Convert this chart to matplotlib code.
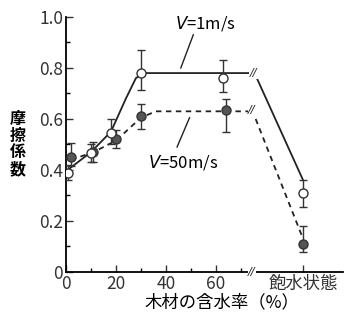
import matplotlib.pyplot as plt
import numpy as np

plt.rcParams['font.family'] = ['Noto Sans CJK JP', 'DejaVu Sans']

# V=1m/s (open circles)
x_slow = [1, 10, 18, 30, 63, 95]
y_slow = [0.39, 0.465, 0.545, 0.78, 0.76, 0.31]
err_slow_lo = [0.03, 0.035, 0.045, 0.065, 0.055, 0.055]
err_slow_hi = [0.03, 0.035, 0.055, 0.09, 0.07, 0.05]

# V=50m/s (filled circles)
x_fast = [2, 11, 20, 30, 64, 95]
y_fast = [0.45, 0.47, 0.52, 0.61, 0.635, 0.11]
err_fast_lo = [0.035, 0.04, 0.035, 0.05, 0.085, 0.03]
err_fast_hi = [0.055, 0.04, 0.035, 0.05, 0.045, 0.07]

# trend lines, before and after the break
slow_line1_x = [0, 10, 18, 24, 28, 31, 74]
slow_line1_y = [0.395, 0.47, 0.55, 0.68, 0.76, 0.78, 0.78]
slow_line2_x = [76, 95]
slow_line2_y = [0.77, 0.36]
fast_line1_x = [2, 11, 20, 30, 36, 73]
fast_line1_y = [0.44, 0.47, 0.515, 0.605, 0.63, 0.63]
fast_line2_x = [76, 95]
fast_line2_y = [0.60, 0.13]

fig = plt.figure(figsize=(3.52, 3.2), dpi=100)
ax = fig.add_axes([0.1875, 0.15, 0.787, 0.797])

ax.plot(slow_line1_x, slow_line1_y, color='#222222', lw=1.3)
ax.plot(slow_line2_x, slow_line2_y, color='#222222', lw=1.3)
ax.plot(fast_line1_x, fast_line1_y, color='#222222', lw=1.3, ls=(0, (3, 2.5)))
ax.plot(fast_line2_x, fast_line2_y, color='#222222', lw=1.3, ls=(0, (3, 2.5)))

ax.errorbar(x_fast, y_fast, yerr=[err_fast_lo, err_fast_hi], fmt='o', ms=6.5,
            mfc='#555555', mec='#333333', ecolor='#333333', elinewidth=1,
            capsize=3, zorder=3)
ax.errorbar(x_slow, y_slow, yerr=[err_slow_lo, err_slow_hi], fmt='o', ms=6.5,
            mfc='white', mec='#333333', ecolor='#333333', elinewidth=1,
            capsize=3, zorder=4)

# break marks
for bx, by in [(75, 0.78), (74.5, 0.635), (74.5, 0.0)]:
    ax.text(bx, by, '//', ha='center', va='center', fontsize=8,
            family='DejaVu Sans', fontstyle='italic', color='#222222',
            bbox=dict(fc='white', ec='none', pad=0.5), zorder=5, clip_on=False)

# annotations
ax.text(56, 0.975, '$V$=1m/s', ha='center', va='center', fontsize=12)
ax.plot([51, 46], [0.93, 0.80], color='#222222', lw=1)
ax.text(47, 0.43, '$V$=50m/s', ha='center', va='center', fontsize=12)
ax.plot([49.5, 44.5], [0.605, 0.49], color='#222222', lw=1)

ax.set_xlim(0, 111)
ax.set_ylim(0, 1.0)
ax.spines['top'].set_visible(False)
ax.spines['right'].set_visible(False)
ax.spines['left'].set_linewidth(1.3)
ax.spines['bottom'].set_linewidth(1.3)

ax.set_xticks([0, 20, 40, 60, 95])
ax.set_xticklabels(['0', '20', '40', '60', '飽水状態'])
ax.set_xticks([10, 30, 50, 70], minor=True)
ax.set_yticks([0, 0.2, 0.4, 0.6, 0.8, 1.0])
ax.set_yticklabels(['0', '0.2', '0.4', '0.6', '0.8', '1.0'])
ax.set_yticks(np.arange(0.1, 1.0, 0.2), minor=True)
ax.tick_params(direction='in', length=5, width=1, labelsize=12.5,
               colors='#333333')
ax.tick_params(axis='y', pad=2)
ax.tick_params(axis='x', pad=2.5)
ax.tick_params(which='minor', direction='in', length=3, width=1)

fig.text(0.631, 0.055, '木材の含水率（%）', ha='center', va='center', fontsize=12.5)
fig.text(0.05, 0.55, '摩\n擦\n係\n数', ha='center', va='center', fontsize=11.5,
         fontweight='bold', linespacing=1.05)

fig.savefig('out.png', dpi=100)
